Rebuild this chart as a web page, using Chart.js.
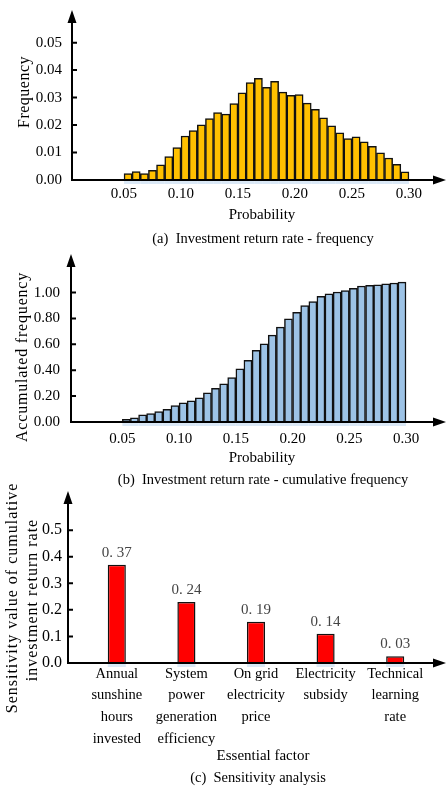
<!DOCTYPE html>
<html lang="en">
<head>
<meta charset="UTF-8">
<title>Investment return rate</title>
<script src="https://cdn.jsdelivr.net/npm/chart.js"></script>
<style>
  body { margin: 0; background: #fff; }
  canvas { position: absolute; left: 0; }
</style>
</head>
<body>
<canvas id="freqChart" style="top:0" width="447" height="250"></canvas>
<canvas id="cumChart" style="top:250px" width="447" height="240"></canvas>
<canvas id="sensChart" style="top:478px" width="447" height="311"></canvas>

<script>
// bin centres (35 bins between 0.05 and 0.30)
const probBins = [0.0536, 0.0607, 0.0679, 0.0750, 0.0821, 0.0893, 0.0964, 0.1036, 0.1107, 0.1179,
                  0.1250, 0.1321, 0.1393, 0.1464, 0.1536, 0.1607, 0.1679, 0.1750, 0.1821, 0.1893,
                  0.1964, 0.2036, 0.2107, 0.2179, 0.2250, 0.2321, 0.2393, 0.2464, 0.2536, 0.2607,
                  0.2679, 0.2750, 0.2821, 0.2893, 0.2964];
const freqValues = [0.0023, 0.0031, 0.0023, 0.0035, 0.0055, 0.0085, 0.0118, 0.0160, 0.0180, 0.0201,
                    0.0224, 0.0245, 0.0240, 0.0278, 0.0317, 0.0355, 0.0370, 0.0337, 0.0359, 0.0320,
                    0.0308, 0.0311, 0.0280, 0.0257, 0.0226, 0.0197, 0.0172, 0.0151, 0.0157, 0.0139,
                    0.0123, 0.0099, 0.0080, 0.0057, 0.0030];
const cumValues = [0.020, 0.033, 0.056, 0.065, 0.080, 0.098, 0.126, 0.149, 0.163, 0.186,
                   0.226, 0.260, 0.295, 0.344, 0.410, 0.477, 0.553, 0.605, 0.672, 0.733,
                   0.798, 0.847, 0.900, 0.930, 0.972, 0.990, 1.005, 1.016, 1.033, 1.051,
                   1.056, 1.060, 1.067, 1.074, 1.081];
const probTicks = [0.05, 0.10, 0.15, 0.20, 0.25, 0.30];
const freqTicks = [0, 0.01, 0.02, 0.03, 0.04, 0.05];
const cumTicks = [0, 0.2, 0.4, 0.6, 0.8, 1.0];

const factorNames = [
  ['Annual', 'sunshine', 'hours', 'invested'],
  ['System', 'power', 'generation', 'efficiency'],
  ['On grid', 'electricity', 'price'],
  ['Electricity', 'subsidy'],
  ['Technical', 'learning', 'rate']
];
const sensValues = [0.37, 0.23, 0.155, 0.11, 0.025];
const sensLabels = ['0. 37', '0. 24', '0. 19', '0. 14', '0. 03'];
const sensTicks = [0, 0.1, 0.2, 0.3, 0.4, 0.5];

const SERIF = "'Liberation Serif', 'Times New Roman', serif";

// axes with arrows, inward ticks, titles and caption
const framePlugin = {
  id: 'frame',
  afterDraw(chart, args, o) {
    const ctx = chart.ctx;
    const by = chart.chartArea.bottom;
    const ax = o.axisX;
    const ys = chart.scales.y;
    ctx.save();
    // faint blue shadow under the bars (as in the scanned figure)
    ctx.fillStyle = 'rgba(150, 190, 230, 0.35)';
    chart.getDatasetMeta(0).data.forEach(bar => {
      ctx.fillRect(bar.x - bar.width / 2, by + 1, bar.width, 3);
    });
    ctx.strokeStyle = '#000';
    ctx.fillStyle = '#000';
    ctx.lineWidth = 2;
    ctx.beginPath();
    ctx.moveTo(ax - 1, by);
    ctx.lineTo(o.tipX - 10, by);
    ctx.moveTo(ax, by);
    ctx.lineTo(ax, o.tipY + 10);
    ys.ticks.forEach(t => {
      if (t.value === 0) return;
      const p = ys.getPixelForValue(t.value);
      ctx.moveTo(ax, p);
      ctx.lineTo(ax + 5, p);
    });
    ctx.stroke();
    ctx.beginPath();
    ctx.moveTo(o.tipX, by);
    ctx.lineTo(o.tipX - 13, by - 4.5);
    ctx.lineTo(o.tipX - 13, by + 4.5);
    ctx.closePath();
    ctx.moveTo(ax, o.tipY);
    ctx.lineTo(ax - 4.5, o.tipY + 13);
    ctx.lineTo(ax + 4.5, o.tipY + 13);
    ctx.closePath();
    ctx.fill();

    ctx.textAlign = 'center';
    ctx.textBaseline = 'middle';
    o.texts.forEach(t => {
      ctx.save();
      ctx.font = t.font;
      ctx.letterSpacing = t.spacing || '0px';
      ctx.translate(t.x, t.y);
      if (t.rot) ctx.rotate(-Math.PI / 2);
      ctx.fillText(t.text, 0, 0);
      ctx.restore();
    });
    ctx.restore();
  }
};

const valuePlugin = {
  id: 'values',
  afterDatasetsDraw(chart, args, o) {
    if (!o.labels) return;
    const ctx = chart.ctx;
    ctx.save();
    ctx.font = '15px ' + SERIF;
    ctx.fillStyle = '#444';
    ctx.textAlign = 'center';
    ctx.textBaseline = 'middle';
    chart.getDatasetMeta(0).data.forEach((bar, i) => {
      ctx.fillText(o.labels[i], bar.x, bar.y - 12);
    });
    ctx.restore();
  }
};

function fixTicks(list) {
  return scale => { scale.ticks = list.map(v => ({ value: v })); };
}

function histChart(id, values, color, yTicks, box, texts) {
  return new Chart(document.getElementById(id), {
    type: 'bar',
    data: {
      datasets: [{
        data: probBins.map((x, i) => ({ x: x, y: values[i] })),
        backgroundColor: color,
        borderColor: '#111',
        borderWidth: 1.5,
        barPercentage: 1,
        categoryPercentage: 1
      }]
    },
    options: {
      responsive: false,
      animation: false,
      layout: { padding: { top: box.top, right: 447 - box.right, left: 0, bottom: 0 } },
      plugins: {
        legend: { display: false },
        tooltip: { enabled: false },
        frame: { axisX: box.left, tipX: 446, tipY: box.top, texts: texts }
      },
      scales: {
        x: {
          type: 'linear',
          offset: false,
          bounds: 'data',
          min: box.xmin, max: box.xmax,
          grid: { display: false, drawTicks: false },
          border: { display: false },
          afterBuildTicks: fixTicks(probTicks),
          afterFit: s => { s.height = box.h - box.bottom; },
          ticks: { color: '#000', padding: box.xpad, font: { family: SERIF, size: 15 },
                   callback: v => v.toFixed(2) }
        },
        y: {
          min: 0, max: box.ymax,
          grid: { display: false, drawTicks: false },
          border: { display: false },
          afterBuildTicks: fixTicks(yTicks),
          afterFit: s => { s.width = box.left; },
          ticks: { color: '#000', padding: box.pad, font: { family: SERIF, size: 15 },
                   callback: v => v.toFixed(2) }
        }
      }
    },
    plugins: [framePlugin]
  });
}

histChart('freqChart', freqValues, '#ffc000', freqTicks,
  { left: 72, top: 10, bottom: 180, right: 440, h: 250, xmin: 0.0044, xmax: 0.3272, ymax: 0.0586, pad: 10, xpad: 5 },
  [
    { text: 'Frequency', x: 25, y: 92, rot: true, font: '16px ' + SERIF, spacing: '0.5px' },
    { text: 'Probability', x: 262, y: 215, font: '15px ' + SERIF },
    { text: '(a)  Investment return rate - frequency', x: 263, y: 239, font: '14.5px ' + SERIF }
  ]);

histChart('cumChart', cumValues, '#9dc3e6', cumTicks,
  { left: 71, top: 4, bottom: 172, right: 440, h: 240, xmin: 0.0048, xmax: 0.3299, ymax: 1.1748, pad: 11, xpad: 8 },
  [
    { text: 'Accumulated frequency', x: 23, y: 107, rot: true, font: '16px ' + SERIF, spacing: '0.8px' },
    { text: 'Probability', x: 262, y: 208, font: '15px ' + SERIF },
    { text: '(b)  Investment return rate - cumulative frequency', x: 263, y: 230, font: '14.5px ' + SERIF }
  ]);

new Chart(document.getElementById('sensChart'), {
  type: 'bar',
  data: {
    labels: factorNames,
    datasets: [{
      data: sensValues,
      backgroundColor: '#ff0000',
      borderColor: '#111',
      borderWidth: 1.5,
      barPercentage: 0.26,
      categoryPercentage: 1
    }]
  },
  options: {
    responsive: false,
    animation: false,
    layout: { padding: { top: 13, right: 17, left: 0, bottom: 0 } },
    plugins: {
      legend: { display: false },
      tooltip: { enabled: false },
      values: { labels: sensLabels },
      frame: {
        axisX: 68, tipX: 446, tipY: 13,
        texts: [
          { text: 'Sensitivity value of cumulative', x: 13, y: 120, rot: true, font: '16px ' + SERIF, spacing: '1px' },
          { text: 'investment return rate', x: 33, y: 122, rot: true, font: '16px ' + SERIF, spacing: '1px' },
          { text: 'Essential factor', x: 263, y: 278, font: '15px ' + SERIF },
          { text: '(c)  Sensitivity analysis', x: 258, y: 300, font: '14.5px ' + SERIF }
        ]
      }
    },
    scales: {
      x: {
        grid: { display: false, drawTicks: false },
        border: { display: false },
        afterFit: s => { s.height = 311 - 185; },
        ticks: { color: '#000', padding: 0, maxRotation: 0, autoSkip: false,
                 font: { family: SERIF, size: 14.5, lineHeight: 1.5 } }
      },
      y: {
        min: 0, max: 0.585,
        grid: { display: false, drawTicks: false },
        border: { display: false },
        afterBuildTicks: fixTicks(sensTicks),
        afterFit: s => { s.width = 82; },
        ticks: { color: '#000', padding: 20, font: { family: SERIF, size: 16 },
                 callback: v => v.toFixed(1) }
      }
    }
  },
  plugins: [framePlugin, valuePlugin]
});
</script>
</body>
</html>
